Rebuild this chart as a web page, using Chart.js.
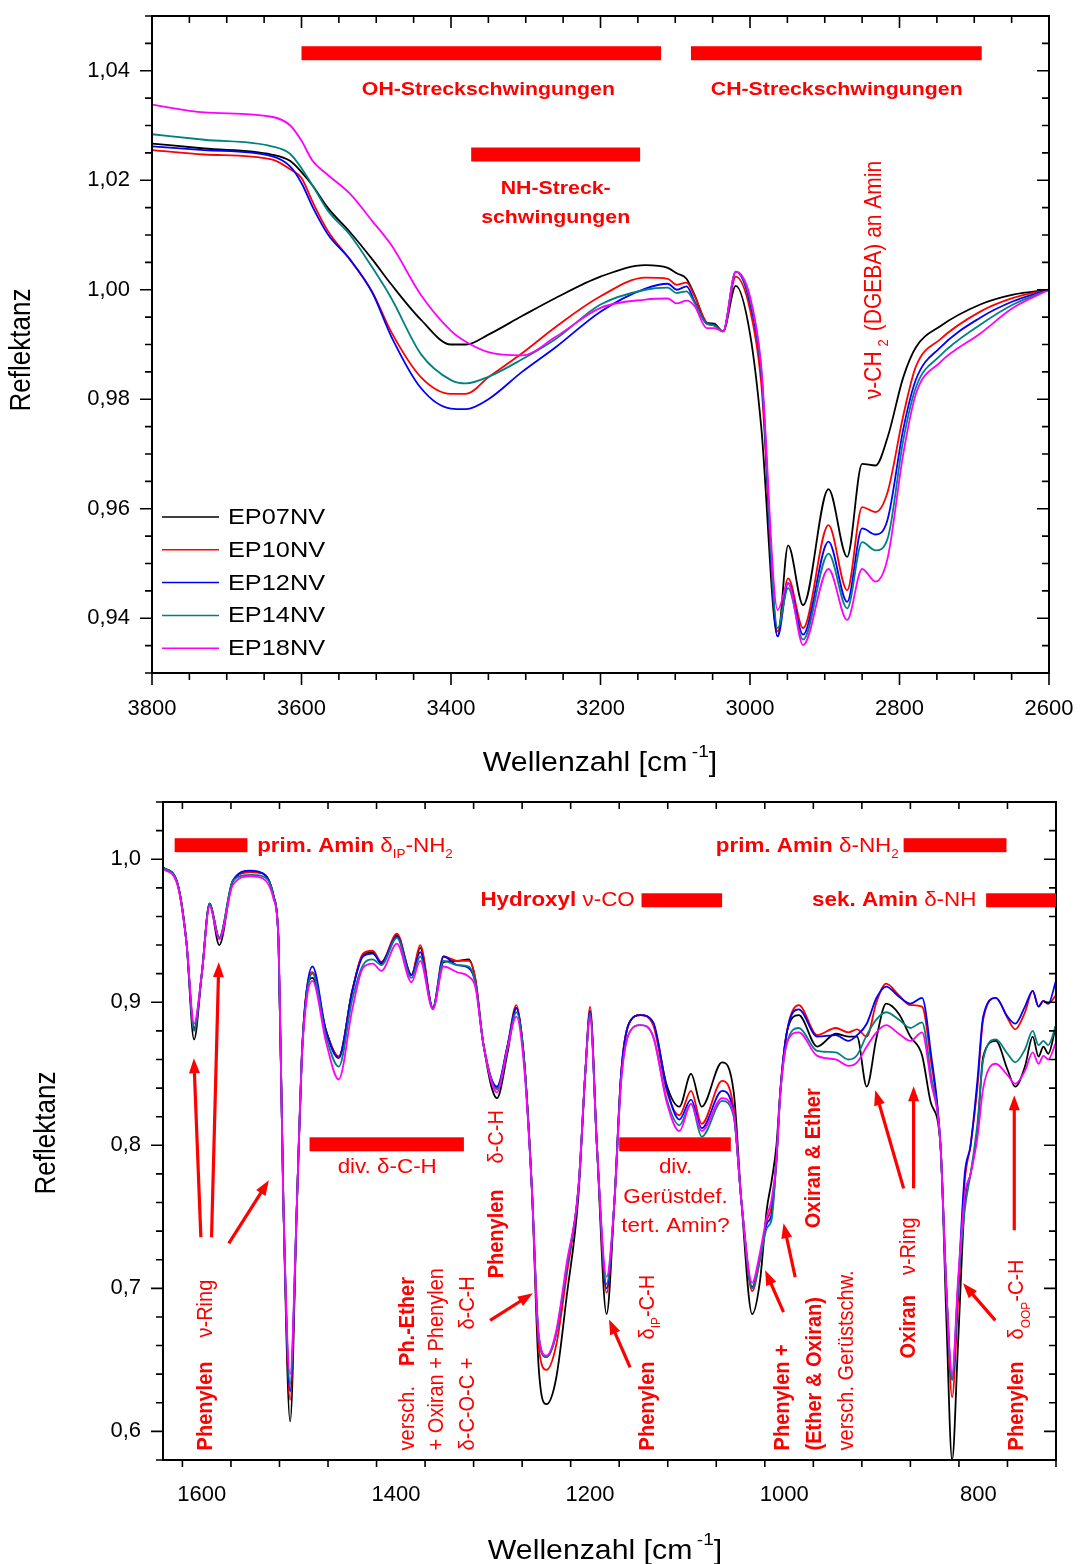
<!DOCTYPE html>
<html>
<head>
<meta charset="utf-8">
<script src="https://cdn.jsdelivr.net/npm/chart.js@4.4.1/dist/chart.umd.min.js"></script>
<style>
  body { margin: 0; background: #fff; }
  canvas { display: block; }
</style>
</head>
<body>
<canvas id="topChart" width="1081" height="790"></canvas>
<canvas id="bottomChart" width="1081" height="774"></canvas>
<script>
// series names and colours (same in both panels)
const seriesLabels = ["EP07NV", "EP10NV", "EP12NV", "EP14NV", "EP18NV"];
const seriesColors = ["#000000", "#ff0000", "#0000ff", "#008080", "#ff00ff"];

// ---- top panel: 3800 - 2600 cm-1 ----
const topWavenumbers = [3800, 3730, 3640, 3615, 3600, 3585, 3565, 3535, 3505, 3480, 3440, 3400, 3380, 3350,
  3305, 3260, 3200, 3140, 3110, 3098, 3085, 3074, 3058, 3048, 3036, 3019, 3000, 2985, 2963, 2949,
  2929, 2895, 2870, 2850, 2832, 2816, 2795, 2778, 2746, 2692, 2648, 2600];
const topEP07 = [1.0267, 1.0258, 1.0247, 1.0235, 1.0215, 1.0190, 1.0150, 1.0105, 1.0055, 1.0010, 0.9945, 0.9900, 0.9900, 0.9918,
  0.9952, 0.9985, 1.0024, 1.0045, 1.0040, 1.0030, 1.0020, 0.9990, 0.9940, 0.9938, 0.9924, 1.0007, 0.9920, 0.9750, 0.9367, 0.9533,
  0.9424, 0.9636, 0.9512, 0.9682, 0.9679, 0.9730, 0.9840, 0.9895, 0.9933, 0.9973, 0.9991, 1.0000];
const topEP10 = [1.0255, 1.0247, 1.0238, 1.0220, 1.0204, 1.0160, 1.0108, 1.0055, 0.9995, 0.9923, 0.9840, 0.9810, 0.9810, 0.9840,
  0.9884, 0.9932, 0.9988, 1.0022, 1.0020, 1.0009, 1.0013, 0.9988, 0.9940, 0.9935, 0.9924, 1.0024, 0.9964, 0.9830, 0.9376, 0.9473,
  0.9382, 0.9570, 0.9451, 0.9603, 0.9594, 0.9630, 0.9770, 0.9860, 0.9909, 0.9960, 0.9985, 1.0000];
const topEP12 = [1.0262, 1.0255, 1.0244, 1.0225, 1.0195, 1.0151, 1.0102, 1.0055, 0.9994, 0.9915, 0.9820, 0.9783, 0.9782, 0.9800,
  0.9850, 0.9895, 0.9960, 1.0002, 1.0011, 1.0000, 1.0006, 0.9978, 0.9938, 0.9935, 0.9924, 1.0033, 0.9976, 0.9850, 0.9367, 0.9464,
  0.9370, 0.9540, 0.9430, 0.9564, 0.9553, 0.9580, 0.9745, 0.9836, 0.9894, 0.9949, 0.9979, 1.0000];
const topEP14 = [1.0284, 1.0274, 1.0262, 1.0248, 1.0222, 1.0190, 1.0145, 1.0100, 1.0040, 0.9985, 0.9882, 0.9835, 0.9829, 0.9841,
  0.9873, 0.9910, 0.9973, 1.0000, 1.0004, 0.9994, 0.9997, 0.9976, 0.9938, 0.9935, 0.9924, 1.0033, 0.9982, 0.9855, 0.9382, 0.9455,
  0.9361, 0.9518, 0.9418, 0.9539, 0.9524, 0.9545, 0.9725, 0.9822, 0.9879, 0.9936, 0.9973, 1.0000];
const topEP18 = [1.0338, 1.0324, 1.0316, 1.0300, 1.0272, 1.0235, 1.0210, 1.0175, 1.0125, 1.0082, 0.9990, 0.9925, 0.9905, 0.9886,
  0.9880, 0.9914, 0.9967, 0.9982, 0.9984, 0.9975, 0.9980, 0.9970, 0.9930, 0.9930, 0.9924, 1.0033, 0.9988, 0.9860, 0.9415, 0.9464,
  0.9351, 0.9490, 0.9397, 0.9490, 0.9467, 0.9509, 0.9700, 0.9810, 0.9867, 0.9920, 0.9967, 1.0000];
const topXTicks = [3800, 3600, 3400, 3200, 3000, 2800, 2600];
const topYTicks = [0.94, 0.96, 0.98, 1.00, 1.02, 1.04];

// ---- bottom panel: 1640 - 720 cm-1 ----
const bottomWavenumbers = [1640, 1626, 1616, 1608, 1600, 1592, 1582, 1568, 1550, 1537, 1526, 1521, 1516, 1509, 1502,
  1497, 1492, 1486, 1472, 1459, 1445, 1434, 1424, 1415, 1399, 1384, 1375, 1362, 1351, 1337, 1325, 1318, 1310,
  1296, 1285, 1276, 1268, 1260, 1253, 1245, 1235, 1224, 1212, 1205, 1200, 1193, 1183, 1175, 1168, 1160, 1148,
  1135, 1121, 1108, 1096, 1085, 1064, 1052, 1044, 1033, 1025, 1018, 1013, 1008, 1004, 997, 985, 966, 947, 934,
  925, 915, 905, 895, 882, 870, 858, 849, 839, 833, 827, 821, 814, 808, 801, 795, 782, 770, 762, 752, 744, 738,
  733, 728, 720];
const bottomEP07 = [0.994, 0.985, 0.943, 0.874, 0.920, 0.969, 0.940, 0.985, 0.991, 0.990, 0.974, 0.943, 0.760, 0.607, 0.760,
  0.862, 0.908, 0.917, 0.880, 0.862, 0.908, 0.933, 0.935, 0.927, 0.947, 0.919, 0.938, 0.896, 0.928, 0.929, 0.930, 0.915, 0.871,
  0.833, 0.865, 0.896, 0.860, 0.770, 0.645, 0.619, 0.637, 0.695, 0.765, 0.850, 0.892, 0.800, 0.682, 0.760, 0.850, 0.885, 0.891,
  0.885, 0.842, 0.827, 0.850, 0.827, 0.858, 0.837, 0.760, 0.682, 0.705, 0.755, 0.775, 0.800, 0.838, 0.880, 0.891, 0.869, 0.878, 0.876,
  0.876, 0.841, 0.875, 0.899, 0.892, 0.876, 0.863, 0.830, 0.800, 0.680, 0.580, 0.660, 0.760, 0.780, 0.810, 0.862, 0.873, 0.853, 0.841, 0.855, 0.876, 0.862,
  0.869, 0.864, 0.884];
const bottomEP10 = [0.994, 0.985, 0.943, 0.882, 0.920, 0.969, 0.945, 0.985, 0.991, 0.990, 0.974, 0.943, 0.760, 0.622, 0.760,
  0.862, 0.908, 0.921, 0.880, 0.862, 0.908, 0.934, 0.936, 0.928, 0.948, 0.919, 0.940, 0.896, 0.932, 0.929, 0.929, 0.916, 0.871,
  0.840, 0.870, 0.898, 0.860, 0.770, 0.660, 0.643, 0.660, 0.710, 0.770, 0.850, 0.897, 0.800, 0.697, 0.760, 0.850, 0.885, 0.891,
  0.884, 0.838, 0.821, 0.838, 0.815, 0.845, 0.825, 0.760, 0.698, 0.720, 0.747, 0.757, 0.790, 0.838, 0.880, 0.898, 0.877, 0.882, 0.879,
  0.881, 0.876, 0.900, 0.913, 0.905, 0.898, 0.897, 0.860, 0.800, 0.700, 0.624, 0.690, 0.775, 0.800, 0.840, 0.888, 0.903, 0.889, 0.881, 0.893, 0.908, 0.897,
  0.901, 0.899, 0.905];
const bottomEP12 = [0.994, 0.985, 0.943, 0.881, 0.920, 0.969, 0.945, 0.985, 0.992, 0.990, 0.974, 0.943, 0.760, 0.628, 0.760,
  0.862, 0.908, 0.925, 0.880, 0.861, 0.908, 0.932, 0.934, 0.928, 0.946, 0.919, 0.935, 0.896, 0.932, 0.926, 0.924, 0.913, 0.871,
  0.841, 0.870, 0.896, 0.860, 0.770, 0.667, 0.652, 0.668, 0.715, 0.770, 0.850, 0.894, 0.800, 0.700, 0.760, 0.850, 0.885, 0.891,
  0.886, 0.840, 0.818, 0.832, 0.812, 0.838, 0.822, 0.760, 0.701, 0.722, 0.745, 0.752, 0.790, 0.838, 0.880, 0.895, 0.876, 0.877, 0.873,
  0.877, 0.885, 0.903, 0.911, 0.904, 0.899, 0.903, 0.865, 0.800, 0.700, 0.636, 0.700, 0.780, 0.800, 0.845, 0.890, 0.903, 0.890, 0.885, 0.897, 0.908, 0.897,
  0.901, 0.899, 0.915];
const bottomEP14 = [0.994, 0.985, 0.943, 0.880, 0.920, 0.969, 0.945, 0.985, 0.989, 0.988, 0.974, 0.943, 0.760, 0.633, 0.760,
  0.862, 0.905, 0.920, 0.876, 0.855, 0.902, 0.926, 0.930, 0.926, 0.945, 0.917, 0.932, 0.896, 0.929, 0.926, 0.925, 0.913, 0.871,
  0.839, 0.868, 0.893, 0.860, 0.770, 0.667, 0.652, 0.668, 0.715, 0.770, 0.850, 0.892, 0.800, 0.703, 0.760, 0.845, 0.878, 0.884,
  0.876, 0.832, 0.814, 0.829, 0.806, 0.831, 0.820, 0.760, 0.700, 0.720, 0.742, 0.748, 0.790, 0.836, 0.872, 0.882, 0.866, 0.865, 0.860,
  0.863, 0.877, 0.888, 0.893, 0.888, 0.882, 0.886, 0.850, 0.800, 0.700, 0.636, 0.700, 0.755, 0.780, 0.815, 0.860, 0.874, 0.864, 0.858, 0.867, 0.880, 0.870,
  0.873, 0.870, 0.884];
const bottomEP18 = [0.993, 0.984, 0.943, 0.885, 0.920, 0.967, 0.944, 0.982, 0.988, 0.9865, 0.972, 0.943, 0.760, 0.640, 0.760,
  0.860, 0.902, 0.915, 0.872, 0.846, 0.895, 0.924, 0.927, 0.922, 0.941, 0.914, 0.929, 0.895, 0.925, 0.921, 0.918, 0.910, 0.871,
  0.837, 0.868, 0.890, 0.855, 0.770, 0.667, 0.653, 0.670, 0.718, 0.770, 0.850, 0.890, 0.800, 0.708, 0.760, 0.845, 0.878, 0.884,
  0.876, 0.830, 0.810, 0.829, 0.810, 0.833, 0.822, 0.760, 0.704, 0.725, 0.750, 0.762, 0.790, 0.836, 0.872, 0.879, 0.8625, 0.860, 0.8555,
  0.858, 0.869, 0.879, 0.884, 0.878, 0.873, 0.879, 0.845, 0.800, 0.700, 0.640, 0.705, 0.765, 0.780, 0.805, 0.840, 0.857, 0.849, 0.843, 0.852, 0.865, 0.857,
  0.8625, 0.860, 0.872];
const bottomXTicks = [1600, 1400, 1200, 1000, 800];
const bottomYTicks = [0.6, 0.7, 0.8, 0.9, 1.0];

const FONT = '"Liberation Sans", Arial, sans-serif';
const RED = "#ff0000";

// text in several pieces: [text, 'b'|'n'|'sub'|'sup'] or a number = gap in px
function drawRich(ctx, x, y, parts, o) {
  const size = o.size || 20, stretch = o.stretch || 1.12;
  const fontFor = k => (k === "b" ? "bold " : "") +
    (k === "sub" || k === "sup" ? Math.round(size * 0.62) : size) + "px " + FONT;
  let total = 0;
  for (const p of parts) {
    if (typeof p === "number") total += p;
    else { ctx.font = fontFor(p[1]); total += ctx.measureText(p[0]).width; }
  }
  ctx.save();
  ctx.translate(x, y);
  if (o.rotate) { ctx.rotate(-Math.PI / 2); ctx.scale(1, stretch); }
  else ctx.scale(stretch, 1);
  let cx = o.align === "center" ? -total / 2 : o.align === "right" ? -total : 0;
  ctx.textBaseline = "middle";
  ctx.textAlign = "left";
  ctx.fillStyle = o.color || RED;
  for (const p of parts) {
    if (typeof p === "number") { cx += p; continue; }
    ctx.font = fontFor(p[1]);
    const dy = p[1] === "sub" ? size * 0.4 : p[1] === "sup" ? -size * 0.42 : 0;
    ctx.fillText(p[0], cx, dy);
    cx += ctx.measureText(p[0]).width;
  }
  ctx.restore();
}

function drawArrow(ctx, x1, y1, x2, y2) {
  const ang = Math.atan2(y2 - y1, x2 - x1), L = 15, W = 5.5;
  ctx.save();
  ctx.strokeStyle = RED; ctx.fillStyle = RED; ctx.lineWidth = 3.2;
  ctx.beginPath();
  ctx.moveTo(x1, y1);
  ctx.lineTo(x2 - Math.cos(ang) * L * 0.8, y2 - Math.sin(ang) * L * 0.8);
  ctx.stroke();
  ctx.translate(x2, y2); ctx.rotate(ang);
  ctx.beginPath(); ctx.moveTo(0, 0); ctx.lineTo(-L, -W); ctx.lineTo(-L, W); ctx.closePath(); ctx.fill();
  ctx.restore();
}

// frame, minor/major ticks, axis titles, annotations
function panelPlugin(cfg) {
  return {
    id: "panel",
    afterDraw(chart) {
      const { ctx, chartArea: a, scales: { x, y } } = chart;
      ctx.save();
      ctx.strokeStyle = "#000";
      ctx.lineWidth = 2;
      ctx.strokeRect(a.left, a.top, a.right - a.left, a.bottom - a.top);
      ctx.lineWidth = 1.6;
      ctx.beginPath();
      const nx = Math.round((cfg.xMax - cfg.xMin) / cfg.xMinor);
      for (let i = 0; i <= nx; i++) {
        const v = cfg.xMin + i * cfg.xMinor;
        const px = x.getPixelForValue(v);
        const len = cfg.xTicks.some(t => Math.abs(t - v) < 1e-6) ? 12 : 7;
        ctx.moveTo(px, a.bottom); ctx.lineTo(px, a.bottom + len);
        ctx.moveTo(px, a.top); ctx.lineTo(px, a.top + len);
      }
      const ny = Math.round((cfg.yMax - cfg.yMin) / cfg.yMinor);
      for (let i = 0; i <= ny; i++) {
        const v = cfg.yMin + i * cfg.yMinor;
        const py = y.getPixelForValue(v);
        if (py < a.top - 0.5 || py > a.bottom + 0.5) continue;
        const len = cfg.yTicks.some(t => Math.abs(t - v) < 1e-6) ? 12 : 7;
        ctx.moveTo(a.left, py); ctx.lineTo(a.left - len, py);
        ctx.moveTo(a.right, py); ctx.lineTo(a.right - len, py);
      }
      ctx.stroke();
      ctx.restore();

      // axis titles
      drawRich(ctx, cfg.xTitlePos[0], cfg.xTitlePos[1],
        [["Wellenzahl [cm", "n"], 4, ["-1", "sup"], ["]", "n"]],
        { size: 27, align: "center", color: "#000" });
      drawRich(ctx, cfg.yTitlePos[0], cfg.yTitlePos[1], [["Reflektanz", "n"]],
        { size: 26, align: "center", rotate: true, color: "#000" });

      // annotations (positions in data units)
      ctx.save();
      ctx.beginPath();
      ctx.rect(a.left, a.top, a.right - a.left, a.bottom - a.top);
      ctx.clip();
      const X = v => x.getPixelForValue(v), Y = v => y.getPixelForValue(v);
      for (const n of cfg.notes) {
        if (n.bar) {
          ctx.fillStyle = RED;
          ctx.fillRect(Math.min(X(n.bar[0]), X(n.bar[1])), Y(n.bar[2]) - 7,
            Math.abs(X(n.bar[1]) - X(n.bar[0])), 14);
        } else if (n.arrow) {
          drawArrow(ctx, X(n.arrow[0]), Y(n.arrow[1]), X(n.arrow[2]), Y(n.arrow[3]));
        } else {
          drawRich(ctx, X(n.at[0]), Y(n.at[1]), n.parts,
            { size: n.size || 20, align: n.align, rotate: n.rotate });
        }
      }
      ctx.restore();

      // legend
      if (cfg.legend) {
        const lx = a.left + 10, ly = a.bottom - 156;
        chart.data.datasets.forEach((ds, i) => {
          const yy = ly + i * 32.8;
          ctx.save();
          ctx.strokeStyle = ds.borderColor; ctx.lineWidth = 1.5;
          ctx.beginPath(); ctx.moveTo(lx, yy); ctx.lineTo(lx + 57, yy); ctx.stroke();
          ctx.restore();
          drawRich(ctx, lx + 66, yy + 1, [[ds.label, "n"]], { size: 22, color: "#000", stretch: 1.15 });
        });
      }
    }
  };
}

// no extra room for edge labels: chart area is set by padding and axis sizes only
function noScalePadding(s) {
  s.paddingLeft = 0; s.paddingRight = 0; s.paddingTop = 0; s.paddingBottom = 0;
}

function makeChart(id, cfg) {
  const tickFont = { family: FONT, size: 22 };
  return new Chart(document.getElementById(id), {
    type: "line",
    data: {
      datasets: cfg.series.map((vals, i) => ({
        label: seriesLabels[i],
        data: cfg.wn.map((w, k) => ({ x: w, y: vals[k] })),
        borderColor: seriesColors[i],
        borderWidth: 1.8,
        pointRadius: 0,
        fill: false,
        cubicInterpolationMode: "monotone",
        order: 5 - i
      }))
    },
    options: {
      responsive: false,
      animation: false,
      devicePixelRatio: 1,
      layout: { padding: cfg.padding },
      plugins: { legend: { display: false }, tooltip: { enabled: false } },
      scales: {
        x: {
          type: "linear", reverse: true, min: cfg.xMin, max: cfg.xMax,
          afterBuildTicks: s => { s.ticks = cfg.xTicks.map(v => ({ value: v })); },
          afterFit: s => { s.height = cfg.xAxisHeight; noScalePadding(s); },
          grid: { display: false, drawTicks: false },
          border: { display: false },
          ticks: { padding: cfg.xPad, color: "#000", font: tickFont, maxRotation: 0, autoSkip: false,
            callback: v => String(v) }
        },
        y: {
          type: "linear", min: cfg.yMin, max: cfg.yMax,
          afterBuildTicks: s => { s.ticks = cfg.yTicks.map(v => ({ value: v })); },
          afterFit: s => { s.width = cfg.yAxisWidth; noScalePadding(s); },
          grid: { display: false, drawTicks: false },
          border: { display: false },
          ticks: { padding: cfg.yPad, color: "#000", font: tickFont, autoSkip: false,
            callback: v => v.toFixed(cfg.yDigits).replace(".", ",") }
        }
      }
    },
    plugins: [panelPlugin(cfg)]
  });
}

makeChart("topChart", {
  wn: topWavenumbers,
  series: [topEP07, topEP10, topEP12, topEP14, topEP18],
  xMin: 2600, xMax: 3800, xMinor: 50, xTicks: topXTicks,
  yMin: 0.93, yMax: 1.05, yMinor: 0.005, yTicks: topYTicks, yDigits: 2,
  padding: { left: 0, right: 32, top: 16, bottom: 0 },
  yAxisWidth: 152, xAxisHeight: 117, xPad: 23, yPad: 22,
  xTitlePos: [600, 764], yTitlePos: [22, 350],
  legend: true,
  notes: [
    { bar: [3600, 3119, 1.0432] },
    { bar: [3079, 2690, 1.0432] },
    { bar: [3373, 3147, 1.0247] },
    { at: [3350, 1.0366], parts: [["OH-Streckschwingungen", "b"]], align: "center", size: 19 },
    { at: [2884, 1.0366], parts: [["CH-Streckschwingungen", "b"]], align: "center", size: 19 },
    { at: [3260, 1.0185], parts: [["NH-Streck-", "b"]], align: "center", size: 19 },
    { at: [3260, 1.0131], parts: [["schwingungen", "b"]], align: "center", size: 19 },
    { at: [2834, 0.980], parts: [["\u03BD-CH", "n"], 5, ["2", "sub"], 8, ["(DGEBA) an Amin", "n"]], rotate: true, size: 21 }
  ]
});

makeChart("bottomChart", {
  wn: bottomWavenumbers,
  series: [bottomEP07, bottomEP10, bottomEP12, bottomEP14, bottomEP18],
  xMin: 720, xMax: 1640, xMinor: 50, xTicks: bottomXTicks,
  yMin: 0.58, yMax: 1.04, yMinor: 0.02, yTicks: bottomYTicks, yDigits: 1,
  padding: { left: 0, right: 25, top: 12, bottom: 0 },
  yAxisWidth: 163, xAxisHeight: 104, xPad: 22, yPad: 22,
  xTitlePos: [605, 762], yTitlePos: [47, 343],
  legend: false,
  notes: [
    // bands
    { bar: [1628, 1553, 1.0098] },
    { at: [1543, 1.0090], parts: [["prim. Amin ", "b"], ["\u03B4", "n"], ["IP", "sub"], ["-NH", "n"], ["2", "sub"]] },
    { at: [882, 1.0090], parts: [["prim. Amin ", "b"], ["\u03B4-NH", "n"], ["2", "sub"]], align: "right" },
    { bar: [877, 771, 1.0098] },
    { at: [1154, 0.9713], parts: [["Hydroxyl ", "b"], ["\u03BD-CO", "n"]], align: "right" },
    { bar: [1147, 1064, 0.9713] },
    { at: [802, 0.9713], parts: [["sek. Amin ", "b"], ["\u03B4-NH", "n"]], align: "right" },
    { bar: [792, 700, 0.9713] },
    { bar: [1489, 1330, 0.8007] },
    { at: [1409, 0.7846], parts: [["div. \u03B4-C-H", "n"]], align: "center" },
    { bar: [1170, 1055, 0.8007] },
    { at: [1112, 0.7846], parts: [["div.", "n"]], align: "center" },
    { at: [1112, 0.7636], parts: [["Ger\u00FCstdef.", "n"]], align: "center" },
    { at: [1112, 0.7434], parts: [["tert. Amin?", "n"]], align: "center" },
    // vertical labels
    { at: [1596, 0.5867], parts: [["Phenylen", "b"], 24, ["\u03BD-Ring", "n"]], rotate: true },
    { at: [1387.6, 0.5867], parts: [["versch.", "n"], 20, ["Ph.-Ether", "b"]], rotate: true },
    { at: [1357.7, 0.5867], parts: [["+ Oxiran + Phenylen", "n"]], rotate: true },
    { at: [1325.8, 0.5867], parts: [["\u03B4-C-O-C +", "n"], 28, ["\u03B4-C-H", "n"]], rotate: true },
    { at: [1296, 0.707], parts: [["Phenylen", "b"], 26, ["\u03B4-C-H", "n"]], rotate: true },
    { at: [1141, 0.5867], parts: [["Phenylen", "b"], 22, ["\u03B4", "n"], ["IP", "sub"], ["-C-H", "n"]], rotate: true },
    { at: [1001, 0.5867], parts: [["Phenylen +", "b"]], rotate: true },
    { at: [968, 0.5867], parts: [["(Ether & Oxiran)", "b"]], rotate: true },
    { at: [935, 0.5867], parts: [["versch. Ger\u00FCstschw.", "n"]], rotate: true },
    { at: [970, 0.742], parts: [["Oxiran & Ether", "b"]], rotate: true },
    { at: [872, 0.651], parts: [["Oxiran", "b"], 20, ["\u03BD-Ring", "n"]], rotate: true },
    { at: [760, 0.5867], parts: [["Phenylen", "b"], 22, ["\u03B4", "n"], ["OOP", "sub"], ["-C-H", "n"]], rotate: true },
    // arrows: tail wn, tail value, head wn, head value
    { arrow: [1601, 0.7357, 1608.2, 0.8608] },
    { arrow: [1590, 0.7357, 1582.5, 0.928] },
    { arrow: [1572.2, 0.7315, 1530.9, 0.7755] },
    { arrow: [1303, 0.6776, 1259, 0.6965] },
    { arrow: [1158.8, 0.6448, 1180.4, 0.6783] },
    { arrow: [1000.7, 0.6834, 1019.6, 0.7126] },
    { arrow: [988.7, 0.7079, 1000.7, 0.7455] },
    { arrow: [877, 0.7699, 906.2, 0.8385] },
    { arrow: [866.7, 0.7699, 866.7, 0.8413] },
    { arrow: [782.5, 0.6776, 815.8, 0.7035] },
    { arrow: [763, 0.7406, 763, 0.835] }
  ]
});
</script>
</body>
</html>
